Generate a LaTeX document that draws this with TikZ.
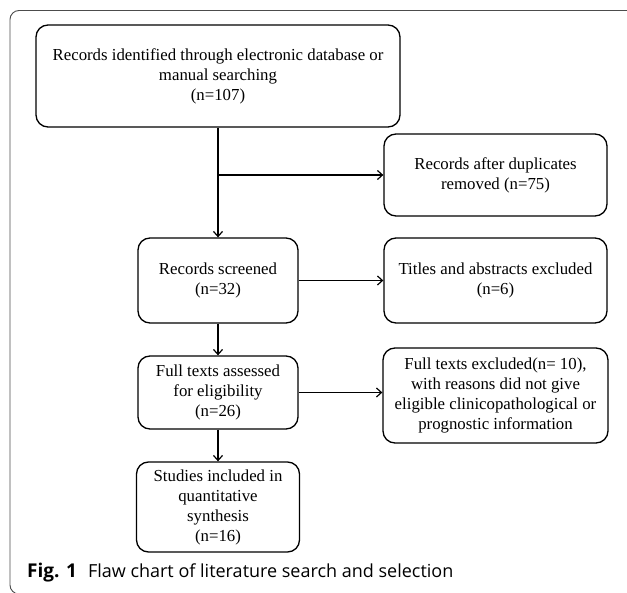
\documentclass[tikz,border=0pt]{standalone}
\usepackage{fontspec}
\setmainfont{Liberation Serif}
\newfontfamily\capfont{Open Sans}
\usetikzlibrary{arrows.meta}
\tikzset{
  x=1pt,y=1pt,
  flowbox/.style={draw=black,line width=1.3pt,rounded corners=12pt,align=center,
    inner sep=0pt,font=\fontsize{16.8}{20}\selectfont},
  flowarrow/.style={line width=1.3pt,-{Straight Barb[length=5pt,width=9pt,line width=1.2pt]}},
  frameline/.style={draw=black!70,line width=0.9pt,rounded corners=9pt}
}
\begin{document}
\begin{tikzpicture}
\useasboundingbox (0,0) rectangle (627,-593);
\clip (0,0) rectangle (627,-593);
\draw[frameline] (10,-10.5) rectangle (660,-594);

\node[flowbox,minimum width=364pt,minimum height=102pt] (b1) at (218,-76)
  {Records identified through electronic database or\\ manual searching\\ (n=107)};
\node[flowbox,minimum width=223pt,minimum height=82pt] (dup) at (495.5,-175)
  {Records after duplicates\\ removed (n=75)};
\node[flowbox,minimum width=160pt,minimum height=85pt] (scr) at (218,-280.5)
  {Records screened\\ (n=32)};
\node[flowbox,minimum width=223pt,minimum height=85pt] (tit) at (495.5,-280.5)
  {Titles and abstracts excluded\\ (n=6)};
\node[flowbox,minimum width=160pt,minimum height=73pt] (full) at (218,-392.5)
  {Full texts assessed\\ for eligibility\\ (n=26)};
\node[flowbox,minimum width=225pt,minimum height=95pt] (excl) at (495.5,-395.5)
  {Full texts excluded(n= 10),\\ with reasons did not give\\ eligible clinicopathological or\\ prognostic information};
\node[flowbox,minimum width=163pt,minimum height=90pt] (stud) at (218,-507)
  {Studies included in\\ quantitative\\ synthesis\\ (n=16)};

\coordinate (br) at (218,-175);
\draw[flowarrow] (b1.south) -- (scr.north);
\draw[flowarrow] (br) -- (dup.west);
\draw[flowarrow] (scr.east) -- (tit.west);
\draw[flowarrow] (scr.south) -- (full.north);
\draw[flowarrow] (full.east) -- (excl.west |- full.east);
\draw[flowarrow] (full.south) -- (stud.north);

\node[anchor=base west,inner sep=0pt,font=\capfont\fontsize{18}{20}\selectfont] (cap) at (27,-577)
  {{\fontsize{19}{20}\selectfont\bfseries Fig. 1}\hspace{11pt}Flaw chart of literature search and selection};
\end{tikzpicture}
\end{document}
